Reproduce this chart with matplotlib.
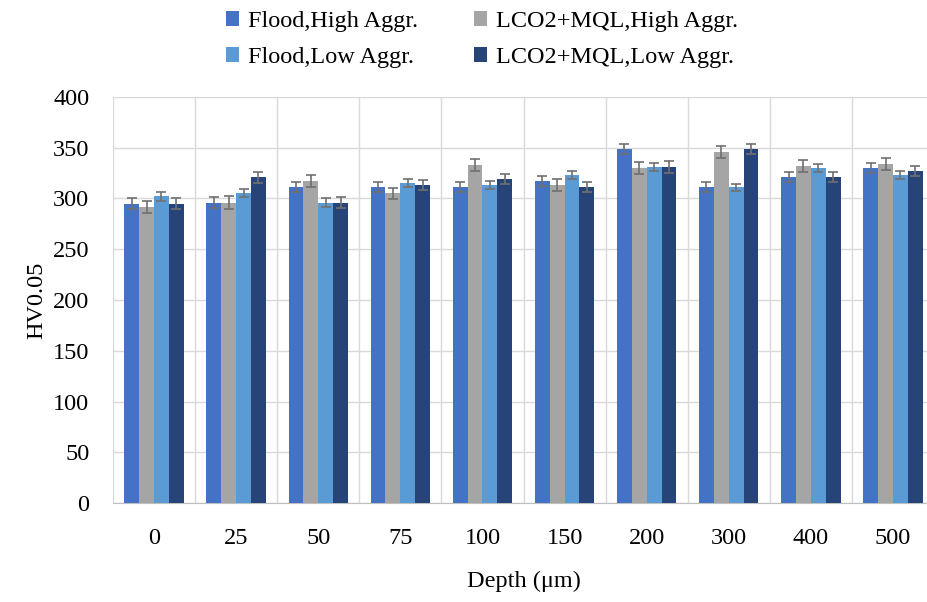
import numpy as np
import matplotlib
matplotlib.use("Agg")
import matplotlib.pyplot as plt

# data
depth = ["0", "25", "50", "75", "100", "150", "200", "300", "400", "500"]
flood_high = [295, 296, 311, 311, 311, 317, 349, 311, 321, 330]
lco2_high = [292, 296, 317, 305, 333, 313, 330, 346, 332, 334]
flood_low = [302, 305, 296, 315, 313, 323, 331, 311, 330, 323]
lco2_low = [295, 321, 296, 313, 319, 311, 331, 349, 321, 327]

err_flood_high = [5, 5, 5, 5, 5, 5, 5, 5, 5, 5]
err_lco2_high = [6, 6, 6, 5.5, 5.5, 6, 6, 6, 6, 5.5]
err_flood_low = [4, 4, 4, 4, 4, 4, 4, 3.5, 4, 4]
err_lco2_low = [5.5, 5.5, 5, 5, 5, 5, 5.5, 5, 5, 5]

plt.rcParams['font.family'] = ['Liberation Serif', 'DejaVu Serif']

fig = plt.figure(figsize=(9.27, 6.02), dpi=100)
ax = fig.add_axes([113/927, 99/602, 821/927, 406/602])

x = np.arange(len(depth))
w = 0.181
series = [
    (flood_high, err_flood_high, "#4472C4", "Flood,High Aggr."),
    (lco2_high, err_lco2_high, "#A5A5A5", "LCO2+MQL,High Aggr."),
    (flood_low, err_flood_low, "#5B9BD5", "Flood,Low Aggr."),
    (lco2_low, err_lco2_low, "#264478", "LCO2+MQL,Low Aggr."),
]
bars = []
for i, (vals, errs, col, lab) in enumerate(series):
    b = ax.bar(x + (i - 1.5) * w, vals, w, color=col, label=lab, zorder=3,
               yerr=errs, error_kw=dict(ecolor="#707070", elinewidth=1.2, capsize=3.5, capthick=1.2, zorder=4))
    bars.append(b)

ax.set_xlim(-0.5, len(depth) - 0.5)
ax.set_ylim(0, 400)
ax.set_yticks(np.arange(0, 401, 50))
ax.set_xticks(x)
ax.set_xticklabels(depth)
ax.set_xticks(np.arange(-0.5, len(depth), 1), minor=True)

ax.grid(axis="y", color="#D9D9D9", lw=1, zorder=0)
ax.grid(axis="x", which="minor", color="#D9D9D9", lw=1, zorder=0)
ax.tick_params(axis="both", which="both", length=0, labelsize=17.5)
ax.tick_params(axis="y", pad=17)
ax.tick_params(axis="x", pad=18)
for s in ["top", "right", "left"]:
    ax.spines[s].set_visible(False)
ax.spines["bottom"].set_color("#BFBFBF")

ax.set_ylabel("HV0.05", fontsize=17.5, labelpad=4)
ax.set_xlabel("Depth (μm)", fontsize=17.5, labelpad=16)

# legend columns: flood left, lco2 right
handles = [bars[0], bars[2], bars[1], bars[3]]
labels = [h.get_label() for h in handles]
fig.legend(handles, labels, ncol=2, loc="upper center", bbox_to_anchor=(0.52, 1.018),
           frameon=False, fontsize=17.5, handlelength=0.55, handleheight=0.55,
           handletextpad=0.35, columnspacing=2.3, labelspacing=0.62)

fig.savefig("out.png", dpi=100)
